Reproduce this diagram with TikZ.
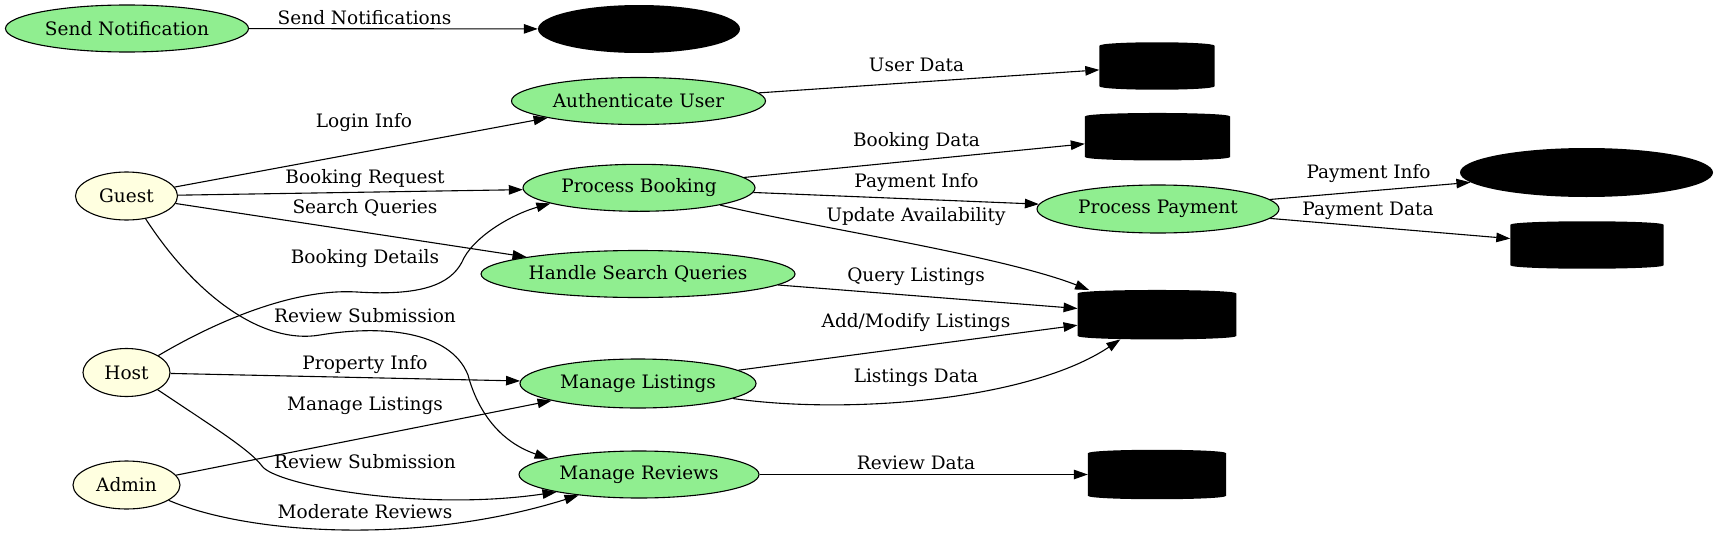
\documentclass[tikz,border=0pt]{standalone}
\usepackage{fontspec}
\setmainfont{DejaVu Serif}
\usetikzlibrary{arrows.meta, shapes.geometric, positioning}

\definecolor{procgreen}{HTML}{90EE90}
\definecolor{actoryellow}{HTML}{FFFFE0}
\newcommand{\dfdfont}{\fontsize{18.5pt}{21pt}\selectfont}

\tikzset{
  proc/.style={ellipse, draw, line width=1.1pt, fill=procgreen, inner sep=0pt, minimum height=47pt, font=\dfdfont},
  actor/.style={ellipse, draw, line width=1.1pt, fill=actoryellow, inner sep=0pt, minimum height=48pt, font=\dfdfont},
  extsvc/.style={ellipse, fill=black, inner sep=0pt, minimum height=48pt},
  store/.style={rectangle, inner sep=0pt},
  flow/.style={-{Triangle[length=14pt,width=9.5pt]}, line width=1.1pt},
  lbl/.style={inner sep=0pt, font=\dfdfont},
}

\begin{document}
\begin{tikzpicture}[x=1pt, y=-1pt]
  \useasboundingbox (0,0) rectangle (1719,538);
  % actors
  \node[actor, minimum width=102pt] (guest) at (126.5,196) {Guest};
  \node[actor, minimum width=87pt] (host) at (126.5,372.5) {Host};
  \node[actor, minimum width=107pt] (admin) at (126.5,485) {Admin};
  % processes
  \node[proc, minimum width=243pt] (notif) at (127,28.5) {Send Notification};
  \node[proc, minimum width=254pt] (auth) at (638.5,101) {Authenticate User};
  \node[proc, minimum width=232pt] (booking) at (639,187.8) {Process Booking};
  \node[proc, minimum width=314pt] (search) at (638,274) {Handle Search Queries};
  \node[proc, minimum width=236pt, minimum height=49pt] (listings) at (638,383.5) {Manage Listings};
  \node[proc, minimum width=240pt] (reviews) at (639,474.5) {Manage Reviews};
  \node[proc, minimum width=242pt, minimum height=48pt] (payment) at (1158,209) {Process Payment};
  % external services
  \node[extsvc, minimum width=202pt] (notifsvc) at (639,29) {};
  \node[extsvc, minimum width=253pt, minimum height=49pt] (gateway) at (1586.5,172.5) {};
  % data stores
  \node[store, minimum width=115pt, minimum height=47pt] (usersdb) at (1157,66) {};
  \node[store, minimum width=145pt, minimum height=47pt] (bookingsdb) at (1157.5,136.7) {};
  \node[store, minimum width=153pt, minimum height=47pt] (paymentsdb) at (1587,245) {};
  \node[store, minimum width=158.5pt, minimum height=49pt] (listingsdb) at (1157,314.7) {};
  \node[store, minimum width=138pt, minimum height=49pt] (reviewsdb) at (1157,474.5) {};
  \foreach \db in {usersdb, bookingsdb, paymentsdb, listingsdb, reviewsdb}
    \fill ([yshift=-3.5pt]\db.north west)
      .. controls ([yshift=1.2pt]\db.north west) and ([yshift=1.2pt]\db.north east) .. ([yshift=-3.5pt]\db.north east)
      -- ([yshift=3.5pt]\db.south east)
      .. controls ([yshift=-1.2pt]\db.south east) and ([yshift=-1.2pt]\db.south west) .. ([yshift=3.5pt]\db.south west)
      -- cycle;

  % flows
  \draw[flow] (notif) -- (notifsvc);
  \draw[flow] (guest) -- (auth);
  \draw[flow] (auth) -- (usersdb);
  \draw[flow] (guest) -- (booking);
  \draw[flow] (guest) -- (search);
  \draw[flow] (guest.-50) .. controls (195,295) and (262,345) .. (320,335)
    .. controls (380,325) and (450,330) .. (468,375)
    .. controls (476,405) and (495,440) .. (reviews.170);
  \draw[flow] (host.28) .. controls (210,325) and (290,288) .. (357,292)
    .. controls (420,296) and (450,285) .. (462,262)
    .. controls (472,238) and (510,215) .. (booking.190);
  \draw[flow] (host) -- (listings);
  \draw[flow] (host.-29) .. controls (215,428) and (250,450) .. (262,466)
    .. controls (275,485) and (420,512) .. (reviews.192);
  \draw[flow] (admin) -- (listings);
  \draw[flow] (admin.-20) .. controls (250,535) and (420,545) .. (reviews.199);
  \draw[flow] (booking) -- (bookingsdb);
  \draw[flow] (booking) -- (payment);
  \draw[flow] (booking.-12) .. controls (800,225) and (1000,255) .. (listingsdb.160);
  \draw[flow] (payment) -- (gateway);
  \draw[flow] (payment) -- (paymentsdb);
  \draw[flow] (search) -- (listingsdb);
  \draw[flow] (listings) -- (listingsdb);
  \draw[flow] (listings.-9) .. controls (850,415) and (1030,400) .. (listingsdb.214);
  \draw[flow] (reviews) -- (reviewsdb);

  % flow labels
  \node[lbl] (lSendN) at (364.5,18) {Send Notifications};
  \node[lbl] (lLogin) at (364,122.5) {Login Info};
  \node[lbl] (lBookReq) at (365,179) {Booking Request};
  \node[lbl] (lSearch) at (365,207.5) {Search Queries};
  \node[lbl] (lBookDet) at (365,259) {Booking Details};
  \node[lbl] (lRevSubA) at (365,316) {Review Submission};
  \node[lbl] (lProp) at (365,365) {Property Info};
  \node[lbl] (lManList) at (365,406) {Manage Listings};
  \node[lbl] (lRevSubB) at (365,462) {Review Submission};
  \node[lbl] (lModRev) at (365,512) {Moderate Reviews};
  \node[lbl] (lUser) at (916.5,65) {User Data};
  \node[lbl] (lBookData) at (916.5,141.4) {Booking Data};
  \node[lbl] (lPayInfoA) at (916.5,183) {Payment Info};
  \node[lbl] (lUpdAv) at (916,216.7) {Update Availability};
  \node[lbl] (lQuery) at (916,276.7) {Query Listings};
  \node[lbl] (lAddMod) at (916,323) {Add/Modify Listings};
  \node[lbl] (lListData) at (916,378) {Listings Data};
  \node[lbl] (lRevData) at (916,463) {Review Data};
  \node[lbl] (lPayInfoB) at (1368.5,174) {Payment Info};
  \node[lbl] (lPayData) at (1368,211) {Payment Data};
\end{tikzpicture}
\end{document}
